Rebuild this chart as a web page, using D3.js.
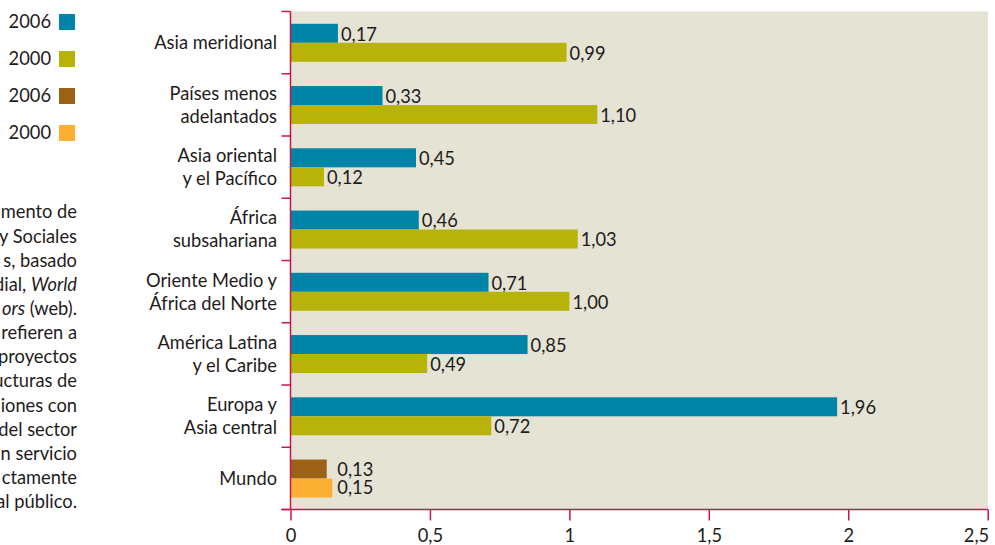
<!DOCTYPE html>
<html><head><meta charset="utf-8">
<script src="https://cdn.jsdelivr.net/npm/d3@7"></script>
<style>body{margin:0;background:#fff}svg{display:block}text{font-family:Lato,"Open Sans",sans-serif;fill:#1f1b1c}</style>
</head><body><svg id="c" width="995" height="545"></svg>
<script>
const categories = [["Asia meridional"],["Países menos","adelantados"],["Asia oriental","y el Pacífico"],["África","subsahariana"],["Oriente Medio y","África del Norte"],["América Latina","y el Caribe"],["Europa y","Asia central"],["Mundo"]];
const values2006 = [0.17,0.33,0.45,0.46,0.71,0.85,1.96,0.13];
const values2000 = [0.99,1.10,0.12,1.03,1.00,0.49,0.72,0.15];
const xTicks = [0,0.5,1,1.5,2,2.5];
const legendLabels = ["2006","2000","2006","2000"];
const noteLines = [["mento de"],["y Sociales"],["s, basado"],["dial, ",["World",1]],[["ors",1]," (web)."],["refieren a"],["proyectos"],["ucturas de"],["iones con"],["del sector"],["n servicio"],["ctamente"],["al público."]];

const C = {teal:"#0085a9",olive:"#b8b309",brown:"#9c6316",orange:"#fbb034",bg:"#e5e3d3",axis:"#c8174a"};
const legendColors = [C.teal,C.olive,C.brown,C.orange];
const svg = d3.select("#c");
const L=290.5, R=988, T=11.5, B=509.5;
const x = d3.scaleLinear().domain([0,2.5]).range([L,987.7]);
const y = d3.scaleBand().domain(d3.range(categories.length)).range([T,B]);
const fs = 18.3;

svg.append("rect").attr("x",L).attr("y",T).attr("width",R-L).attr("height",B-T).attr("fill",C.bg);

// bars
const bh = 19;
categories.forEach((c,i)=>{
  const mundo = i===categories.length-1;
  const cols = mundo?[C.brown,C.orange]:[C.teal,C.olive];
  const vals = [values2006[i],values2000[i]];
  vals.forEach((v,k)=>{
    const y0 = y(i)+12.3+k*bh;
    svg.append("rect").attr("x",x(0)).attr("y",y0).attr("width",x(v)-x(0)).attr("height",bh).attr("fill",cols[k]);
    const lx = mundo ? x(d3.max(vals))+5 : x(v)+3;
    svg.append("text").attr("x",lx).attr("y",y0+bh/2+(mundo?(k?-0.5:0.5):1)).attr("dy","0.35em").attr("font-size",fs).text(d3.format(".2f")(v).replace(".",","));
  });
  const lines = c, cy = y(i)+y.bandwidth()/2, lh=23;
  lines.forEach((t,j)=>{
    svg.append("text").attr("x",277).attr("y",cy+(j-(lines.length-1)/2)*lh).attr("dy","0.35em").attr("text-anchor","end").attr("font-size",fs).text(t);
  });
});

// left axis
const gl = svg.append("g").attr("transform",`translate(${L},0)`);
gl.append("line").attr("y1",T).attr("y2",B).attr("stroke",C.axis).attr("stroke-width",1.5);
d3.range(categories.length+1).forEach(i=>{
  const yy = T+i*y.bandwidth();
  gl.append("line").attr("x1",-9).attr("x2",0).attr("y1",yy).attr("y2",yy).attr("stroke",C.axis).attr("stroke-width",1.5);
});
// bottom axis
const gb = svg.append("g").attr("transform",`translate(0,${B})`);
gb.append("line").attr("x1",L-9).attr("x2",R).attr("stroke",C.axis).attr("stroke-width",1.5);
const ax = d3.axisBottom(x).tickValues(xTicks).tickSize(11).tickPadding(9).tickFormat(d=>String(d).replace(".",","));
const ga = svg.append("g").attr("transform",`translate(0,${B})`).call(ax);
ga.select(".domain").remove();
ga.selectAll(".tick line").attr("stroke",C.axis).attr("stroke-width",1.5);
ga.selectAll(".tick text").attr("font-size",fs).attr("font-family","Lato").attr("fill","#1f1b1c")
  .attr("text-anchor",(d,i)=>i===xTicks.length-1?"end":"middle").attr("dx",(d,i)=>i===xTicks.length-1?1:0);

// legend
legendLabels.forEach((t,i)=>{
  const yy = 14+i*37;
  svg.append("rect").attr("x",59).attr("y",yy).attr("width",16).attr("height",16).attr("fill",legendColors[i]);
  svg.append("text").attr("x",51).attr("y",yy+8).attr("dy","0.35em").attr("text-anchor","end").attr("font-size",fs).text(t);
});

// note
let ny = 212;
noteLines.forEach(l=>{
  const t = svg.append("text").attr("x",77).attr("y",ny).attr("dy","0.35em").attr("text-anchor","end").attr("font-size",fs);
  l.forEach(p=>{
    if(Array.isArray(p)) t.append("tspan").attr("font-style","italic").text(p[0]);
    else t.append("tspan").text(p);
  });
  ny+=24.15;
});
</script></body></html>
